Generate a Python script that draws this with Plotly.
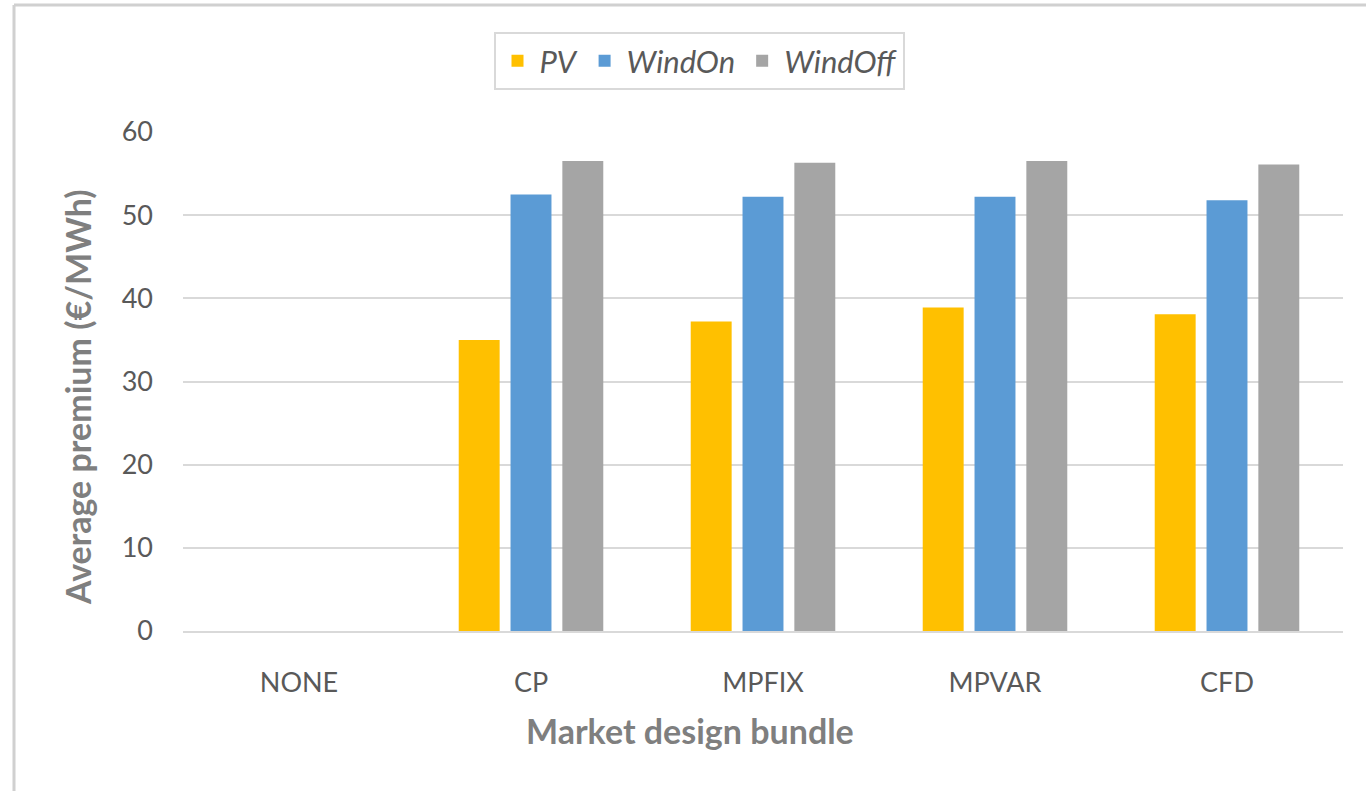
import plotly.graph_objects as go

# Market design bundles and average premium per technology (€/MWh)
bundles = ["NONE", "CP", "MPFIX", "MPVAR", "CFD"]
pv = [0, 35.0, 37.2, 38.9, 38.1]
wind_on = [0, 52.5, 52.2, 52.2, 51.8]
wind_off = [0, 56.5, 56.3, 56.5, 56.1]

series = [
    ("PV", pv, "#FFC000"),
    ("WindOn", wind_on, "#5B9BD5"),
    ("WindOff", wind_off, "#A5A5A5"),
]

FONT = "Lato"
TEXT = "#595959"
TITLE = "#7F7F7F"
GRID = "#D9D9D9"

W, H = 1366, 791
L, R, T, B = 183, 23, 132, 160
PW, PH = W - L - R, H - T - B


def px_x(x):
    return (x - L) / PW


def px_y(y):
    return (H - B - y) / PH


fig = go.Figure()
for name, vals, color in series:
    fig.add_trace(go.Bar(
        name=name, x=bundles, y=vals,
        marker=dict(color=color, line=dict(width=0)),
    ))

fig.update_layout(
    width=W, height=H,
    margin=dict(l=L, r=R, t=T, b=B, autoexpand=False),
    paper_bgcolor="white", plot_bgcolor="white",
    barmode="group", bargap=0.33, bargroupgap=0.21,
    font=dict(family=FONT, color=TEXT),
    showlegend=True,
    legend=dict(
        orientation="h", xanchor="center", yanchor="top",
        x=px_x(699), y=px_y(32),
        bordercolor=GRID, borderwidth=2, bgcolor="white",
        font=dict(family=FONT, size=31, color=TEXT, style="italic"),
        itemwidth=34, traceorder="normal",
    ),
    xaxis=dict(
        tickfont=dict(size=27, color=TEXT),
        showgrid=False, showline=True, linecolor=GRID, linewidth=2,
        ticks="", ticklabelstandoff=27,
    ),
    yaxis=dict(
        range=[0, 60], dtick=10,
        tickfont=dict(size=27, color=TEXT),
        showgrid=True, gridcolor=GRID, gridwidth=2,
        zeroline=False, showline=False, ticks="",
        ticklabelstandoff=29,
    ),
    annotations=[
        dict(text="<b>Market design bundle</b>", x=px_x(690), y=px_y(730),
             xref="paper", yref="paper", showarrow=False,
             xanchor="center", yanchor="middle",
             font=dict(family=FONT, size=34, color=TITLE)),
        dict(text="<b>Average premium (€/MWh)</b>", x=px_x(77), y=px_y(397),
             xref="paper", yref="paper", showarrow=False, textangle=-90,
             xanchor="center", yanchor="middle",
             font=dict(family=FONT, size=34, color=TITLE)),
    ],
    shapes=[
        # chart frame (top and left edges)
        dict(type="line", xref="paper", yref="paper",
             x0=px_x(14), x1=px_x(1370), y0=px_y(5), y1=px_y(5),
             line=dict(color="#D0D0D0", width=3)),
        dict(type="line", xref="paper", yref="paper",
             x0=px_x(14), x1=px_x(14), y0=px_y(5), y1=px_y(800),
             line=dict(color="#D0D0D0", width=3)),
    ],
)

fig.write_html("out.html")
